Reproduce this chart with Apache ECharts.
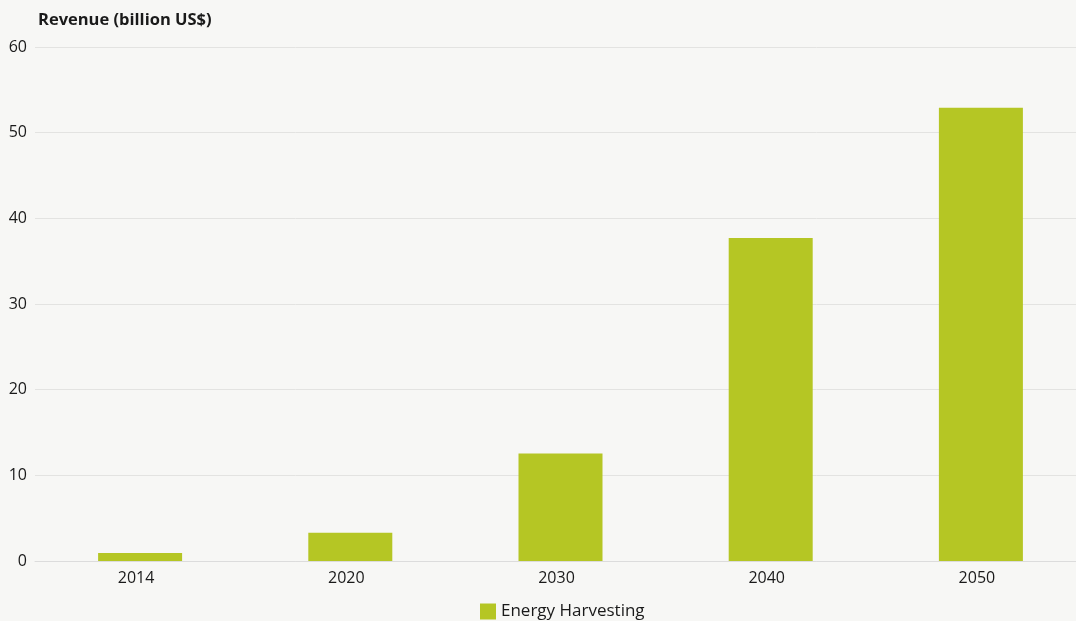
<!DOCTYPE html>
<html><head><meta charset="utf-8">
<script src="https://cdn.jsdelivr.net/npm/echarts@6/dist/echarts.min.js"></script>
<style>html,body{margin:0;padding:0;background:#f7f7f5}#c{width:1076px;height:621px}</style>
</head><body><div id="c"></div>
<script>
const categories = ['2014','2020','2030','2040','2050'];
const seriesName = 'Energy Harvesting';
const values = [0.93, 3.3, 12.55, 37.7, 52.9];
const yTicks = [0, 10, 20, 30, 40, 50, 60];
const yTitle = 'Revenue (billion US$)';

const chart = echarts.init(document.getElementById('c'));
const font = '"Open Sans", "Noto Sans", sans-serif';
chart.setOption({
  backgroundColor: '#f7f7f5',
  animation: false,
  textStyle: { fontFamily: font },
  grid: { left: 35, width: 1051, top: 47, height: 514, containLabel: false, outerBoundsMode: 'none' },
  title: { text: yTitle, left: 33, top: 7, textStyle: { fontFamily: font, fontSize: 16.5, fontWeight: 'bold', color: '#1a1a1a' } },
  legend: { top: 598, left: 475, itemWidth: 16, itemHeight: 16, itemGap: 7,
    icon: 'rect', textStyle: { fontFamily: font, fontSize: 17, color: '#1a1a1a' } },
  xAxis: { type: 'category', data: categories,
    axisLine: { show: true, lineStyle: { color: '#dcdcdc', width: 1 } },
    axisTick: { show: false },
    axisLabel: { fontSize: 16, color: '#1a1a1a', margin: 9, padding: [0, 8, 0, 0] } },
  yAxis: { type: 'value', min: yTicks[0], max: yTicks[yTicks.length-1], interval: 10,
    axisLine: { show: false }, axisTick: { show: false },
    splitLine: { lineStyle: { color: '#e3e3e1', width: 1 } },
    axisLabel: { fontSize: 16, color: '#1a1a1a', margin: 8 } },
  series: [{ name: seriesName, type: 'bar', data: values, barWidth: 84,
    itemStyle: { color: '#b5c624' } }]
});
</script></body></html>
